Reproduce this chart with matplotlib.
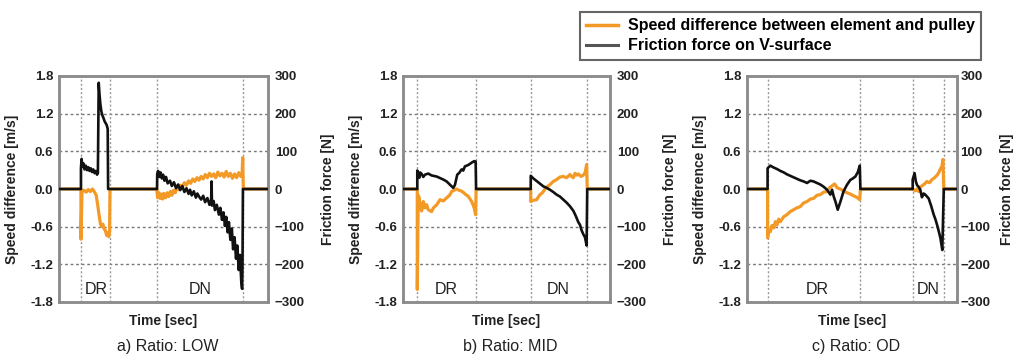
import matplotlib.pyplot as plt
from matplotlib.lines import Line2D

plt.rcParams['font.family'] = ['Liberation Sans', 'DejaVu Sans']

############################# DATOS ################################

speed_ticks = [-1.8, -1.2, -0.6, 0.0, 0.6, 1.2, 1.8]
force_ticks = [-300, -200, -100, 0, 100, 200, 300]
grid_speed = [-1.2, -0.6, 0.6, 1.2]

titles = ['a) Ratio: LOW', 'b) Ratio: MID', 'c) Ratio: OD']
legend_labels = ['Speed difference between element and pulley', 'Friction force on V-surface']

# a) LOW
bounds_a = [1.05, 2.44, 4.69, 8.82]
phase_pos_a = [1.77, 6.75]
t_spd_a = [0, 1.05, 1.05, 1.08, 1.10, 1.20, 1.30, 1.40, 1.50, 1.60, 1.70, 1.78, 1.85, 1.92, 1.98,
           2.04, 2.10, 2.16, 2.22, 2.28, 2.33, 2.38, 2.42, 2.44, 4.69,
           4.69, 4.72, 4.78, 4.84, 4.90, 4.96, 5.02, 5.10, 5.18, 5.25, 5.33, 5.40, 5.48, 5.56,
           5.64, 5.72, 5.80, 5.90, 6.00, 6.10, 6.20, 6.30, 6.40, 6.50, 6.60, 6.70, 6.80, 6.90,
           7.00, 7.10, 7.20, 7.30, 7.40, 7.50, 7.60, 7.70, 7.80, 7.90, 8.00, 8.10, 8.20, 8.30,
           8.40, 8.50, 8.60, 8.70, 8.76, 8.79, 8.80, 8.82, 10]
v_spd_a = [0, 0, -0.80, -0.35, -0.05, -0.02, -0.05, -0.01, -0.04, 0.0, -0.05, -0.10, -0.25, -0.42, -0.55,
           -0.60, -0.56, -0.64, -0.66, -0.74, -0.70, -0.76, -0.68, 0, 0,
           -0.05, -0.14, -0.06, -0.15, -0.08, -0.16, -0.07, -0.14, -0.06, -0.12, -0.04, -0.10, -0.02, -0.06,
           0.03, -0.01, 0.06, 0.03, 0.10, 0.06, 0.13, 0.09, 0.16, 0.12, 0.18, 0.14, 0.20, 0.16,
           0.23, 0.18, 0.25, 0.20, 0.24, 0.18, 0.27, 0.21, 0.25, 0.19, 0.28, 0.20, 0.25, 0.17,
           0.24, 0.18, 0.26, 0.20, 0.24, 0.50, 0.30, 0, 0]
t_frc_a = [0, 1.05, 1.05, 1.08, 1.12, 1.17, 1.22, 1.28, 1.34, 1.40, 1.46, 1.52, 1.58, 1.64, 1.70,
           1.76, 1.82, 1.86, 1.90, 1.94, 1.98, 2.03, 2.08, 2.13, 2.18, 2.23, 2.28, 2.33, 2.35, 4.69,
           4.70, 4.74, 4.80, 4.86, 4.92, 4.98, 5.05, 5.12, 5.20, 5.31, 5.40, 5.50, 5.60, 5.70,
           5.80, 5.90, 6.00, 6.10, 6.20, 6.27, 6.35, 6.45, 6.55, 6.62, 6.70, 6.80, 6.90, 6.99,
           7.10, 7.20, 7.28, 7.30, 7.32, 7.40, 7.46, 7.55, 7.65, 7.72, 7.80, 7.87, 7.94, 8.00,
           8.07, 8.13, 8.20, 8.27, 8.33, 8.40, 8.47, 8.53, 8.60, 8.66, 8.72, 8.76, 8.78, 8.80, 10]
v_frc_a = [0, 0, 55, 80, 60, 68, 52, 62, 50, 58, 48, 55, 45, 52, 42,
           48, 38, 42, 282, 250, 225, 205, 195, 188, 180, 175, 170, 160, 0, 0,
           40, 48, 32, 44, 28, 38, 22, 32, 15, 22, 8, 18, 2, 12,
           -3, 8, -8, 2, -13, -2, -17, -6, -23, -12, -20, -28, -18, -35,
           -24, -42, -28, 20, -44, -32, -56, -42, -68, -50, -82, -62, -98, -74,
           -115, -88, -135, -105, -160, -128, -185, -150, -215, -175, -245, -265, -205, 0, 0]

# b) MID
bounds_b = [0.68, 3.53, 6.17, 8.90]
phase_pos_b = [2.11, 7.50]
t_spd_b = [0, 0.69, 0.69, 0.72, 0.74, 0.79, 0.82, 0.90, 0.98, 1.06, 1.14, 1.22, 1.38, 1.47,
           1.63, 1.79, 1.95, 2.11, 2.25, 2.35, 2.47, 2.59, 2.70, 2.80, 2.90, 3.00, 3.16, 3.32,
           3.44, 3.51, 3.53, 6.17,
           6.17, 6.30, 6.46, 6.55, 6.62, 6.70, 6.78, 6.86, 6.98, 7.10, 7.26, 7.42, 7.58, 7.74,
           7.90, 8.07, 8.15, 8.23, 8.31, 8.40, 8.47, 8.60, 8.71, 8.80, 8.87, 8.90, 10]
v_spd_b = [0, 0, -1.60, -0.60, -0.10, -0.15, -0.25, -0.35, -0.20, -0.30, -0.25, -0.33, -0.36, -0.30,
           -0.25, -0.17, -0.19, -0.14, -0.10, -0.04, -0.02, 0.0, -0.02, -0.03, -0.05, -0.08, -0.12, -0.20,
           -0.30, -0.41, 0, 0,
           -0.20, -0.18, -0.17, -0.12, -0.09, -0.07, -0.04, 0.0, 0.04, 0.07, 0.12, 0.15, 0.19, 0.20,
           0.18, 0.23, 0.20, 0.18, 0.25, 0.22, 0.24, 0.20, 0.22, 0.26, 0.39, 0, 0]
t_frc_b = [0, 0.69, 0.69, 0.74, 0.79, 0.82, 0.90, 0.98, 1.06, 1.22, 1.38, 1.63, 1.79, 1.95,
           2.11, 2.35, 2.43, 2.51, 2.62, 2.72, 2.83, 2.91, 2.99, 3.16, 3.32, 3.44, 3.51, 3.53, 6.17,
           6.17, 6.30, 6.46, 6.62, 6.78, 6.94, 7.10, 7.26, 7.42, 7.58, 7.74, 7.90, 8.07, 8.23,
           8.35, 8.47, 8.55, 8.63, 8.71, 8.79, 8.87, 8.90, 10]
v_frc_b = [0, 0, 49, 38, 30, 44, 40, 32, 38, 41, 36, 33, 29, 25,
           20, 7, 3, 11, 38, 43, 52, 49, 60, 64, 70, 74, 73, 0, 0,
           35, 28, 21, 14, 7, 3, -2, -8, -15, -20, -28, -36, -46, -58,
           -72, -88, -95, -110, -120, -128, -150, 0, 0]

# c) OD
bounds_c = [0.98, 5.40, 7.89, 9.37]
phase_pos_c = [3.33, 8.65]
t_spd_c = [0, 0.98, 0.98, 1.04, 1.11, 1.19, 1.27, 1.35, 1.43, 1.51, 1.59, 1.75, 1.90, 2.06,
           2.22, 2.38, 2.54, 2.70, 2.86, 3.02, 3.17, 3.33, 3.49, 3.65, 3.81, 3.93, 4.05, 4.17,
           4.29, 4.44, 4.60, 4.76, 4.92, 5.08, 5.22, 5.37, 5.40, 7.89,
           7.89, 8.02, 8.10, 8.17, 8.25, 8.33, 8.45, 8.57, 8.69, 8.81, 8.93, 9.05, 9.13, 9.21,
           9.28, 9.33, 9.37, 10]
v_spd_c = [0, 0, -0.78, -0.66, -0.68, -0.58, -0.62, -0.52, -0.57, -0.48, -0.52, -0.44, -0.41, -0.36,
           -0.33, -0.30, -0.28, -0.22, -0.20, -0.16, -0.15, -0.10, -0.09, -0.05, -0.04, 0.02, 0.05, 0.08,
           0.02, 0.0, -0.03, -0.06, -0.08, -0.11, -0.13, -0.17, 0, 0,
           0.0, -0.03, 0.0, -0.04, 0.03, 0.05, 0.08, 0.12, 0.10, 0.15, 0.18, 0.22, 0.26, 0.32,
           0.36, 0.47, 0, 0]
t_frc_c = [0, 0.98, 0.98, 1.11, 1.27, 1.43, 1.59, 1.75, 1.90, 2.06, 2.22, 2.38, 2.54, 2.70,
           2.86, 3.02, 3.17, 3.33, 3.49, 3.65, 3.81, 3.97, 4.05, 4.13, 4.21, 4.32, 4.44, 4.60,
           4.76, 4.92, 5.04, 5.16, 5.28, 5.37, 5.40, 7.89,
           7.89, 7.98, 8.04, 8.10, 8.18, 8.25, 8.33, 8.41, 8.49, 8.57, 8.65, 8.77, 8.89, 8.97,
           9.05, 9.13, 9.21, 9.30, 9.37, 10]
v_frc_c = [0, 0, 55, 62, 57, 53, 48, 44, 39, 35, 31, 27, 23, 20,
           16, 22, 20, 16, 12, 6, -2, -15, -2, -20, -33, -55, -35, -6,
           11, 24, 28, 33, 45, 62, 0, 0,
           25, 42, 20, 10, 5, -2, -22, -12, -15, -20, -25, -45, -68, -80,
           -95, -112, -130, -162, 0, 0]

############################# GRÁFICA ################################

ORANGE = '#F39A26'
GRAY = '#8C8C8C'

fig = plt.figure(figsize=(10.22, 3.61), dpi=100)

# left px, width px, datos, separación etiquetas derecha (tick pad, label pad)
panels = [
    (59, 209, t_spd_a, v_spd_a, t_frc_a, v_frc_a, bounds_a, phase_pos_a, titles[0], 5, 11.5),
    (403, 207, t_spd_b, v_spd_b, t_frc_b, v_frc_b, bounds_b, phase_pos_b, titles[1], 5, 11.5),
    (747, 210, t_spd_c, v_spd_c, t_frc_c, v_frc_c, bounds_c, phase_pos_c, titles[2], 2.5, 7),
]

W, H = 1022, 361
for left, width, ts, vs, tf, vf, bounds, phase_pos, title, rpad, rlabpad in panels:
    ax = fig.add_axes([left / W, 1 - 302 / H, width / W, (302 - 76) / H])
    ax2 = ax.twinx()
    ax.set_xlim(0, 10)
    ax.set_ylim(-1.8, 1.8)
    ax2.set_ylim(-300, 300)
    ax.set_xticks([])
    ax.set_yticks(speed_ticks)
    ax.set_yticklabels([f'{v:.1f}' for v in speed_ticks])
    ax2.set_yticks(force_ticks)
    ax.tick_params(axis='y', length=0, pad=4, labelsize=9.5)
    ax2.tick_params(axis='y', length=0, pad=rpad, labelsize=9.5)
    for lab in ax.get_yticklabels() + ax2.get_yticklabels():
        lab.set_fontweight('bold')
        lab.set_color('#222222')

    for y in grid_speed:
        ax.axhline(y, color='#777777', lw=1.0, ls=(0, (2, 2)), zorder=1)
    for x in bounds:
        ax.axvline(x, color='#999999', lw=1.0, ls=(0, (1.5, 1.5)), zorder=1)

    ax.plot(ts, vs, color=ORANGE, lw=2.3, zorder=3)
    ax2.plot(tf, vf, color='#111111', lw=1.9, zorder=3)

    ax.text(phase_pos[0], -1.6, 'DR', ha='center', va='center', fontsize=11.5, color='#222222')
    ax.text(phase_pos[1], -1.6, 'DN', ha='center', va='center', fontsize=11.5, color='#222222')

    for a in (ax, ax2):
        for s in a.spines.values():
            s.set_color(GRAY)
            s.set_linewidth(1.8)

    ax.set_ylabel('Speed difference [m/s]', fontsize=10, fontweight='bold', labelpad=8, color='#222222')
    ax2.set_ylabel('Friction force [N]', fontsize=10, fontweight='bold', labelpad=rlabpad, color='#222222')
    ax.set_xlabel('Time [sec]', fontsize=10, fontweight='bold', labelpad=9, color='#222222')
    fig.text((left + width / 2 + 4) / W, 1 - 347 / H, title, ha='center', va='center',
             fontsize=11.5, color='#222222')

handles = [Line2D([0], [0], color=ORANGE, lw=2.5), Line2D([0], [0], color='#555555', lw=2.2)]
leg = fig.legend(handles, legend_labels, loc='upper right', bbox_to_anchor=(989 / W, 1 - 4 / H),
                 frameon=True, fancybox=False, edgecolor='#666666', framealpha=1,
                 prop={'weight': 'bold', 'size': 11.5}, handlelength=2.0, labelspacing=0.3,
                 borderpad=0.4, handletextpad=0.6)
leg.get_frame().set_linewidth(1.5)

fig.savefig('out.png', dpi=100)
